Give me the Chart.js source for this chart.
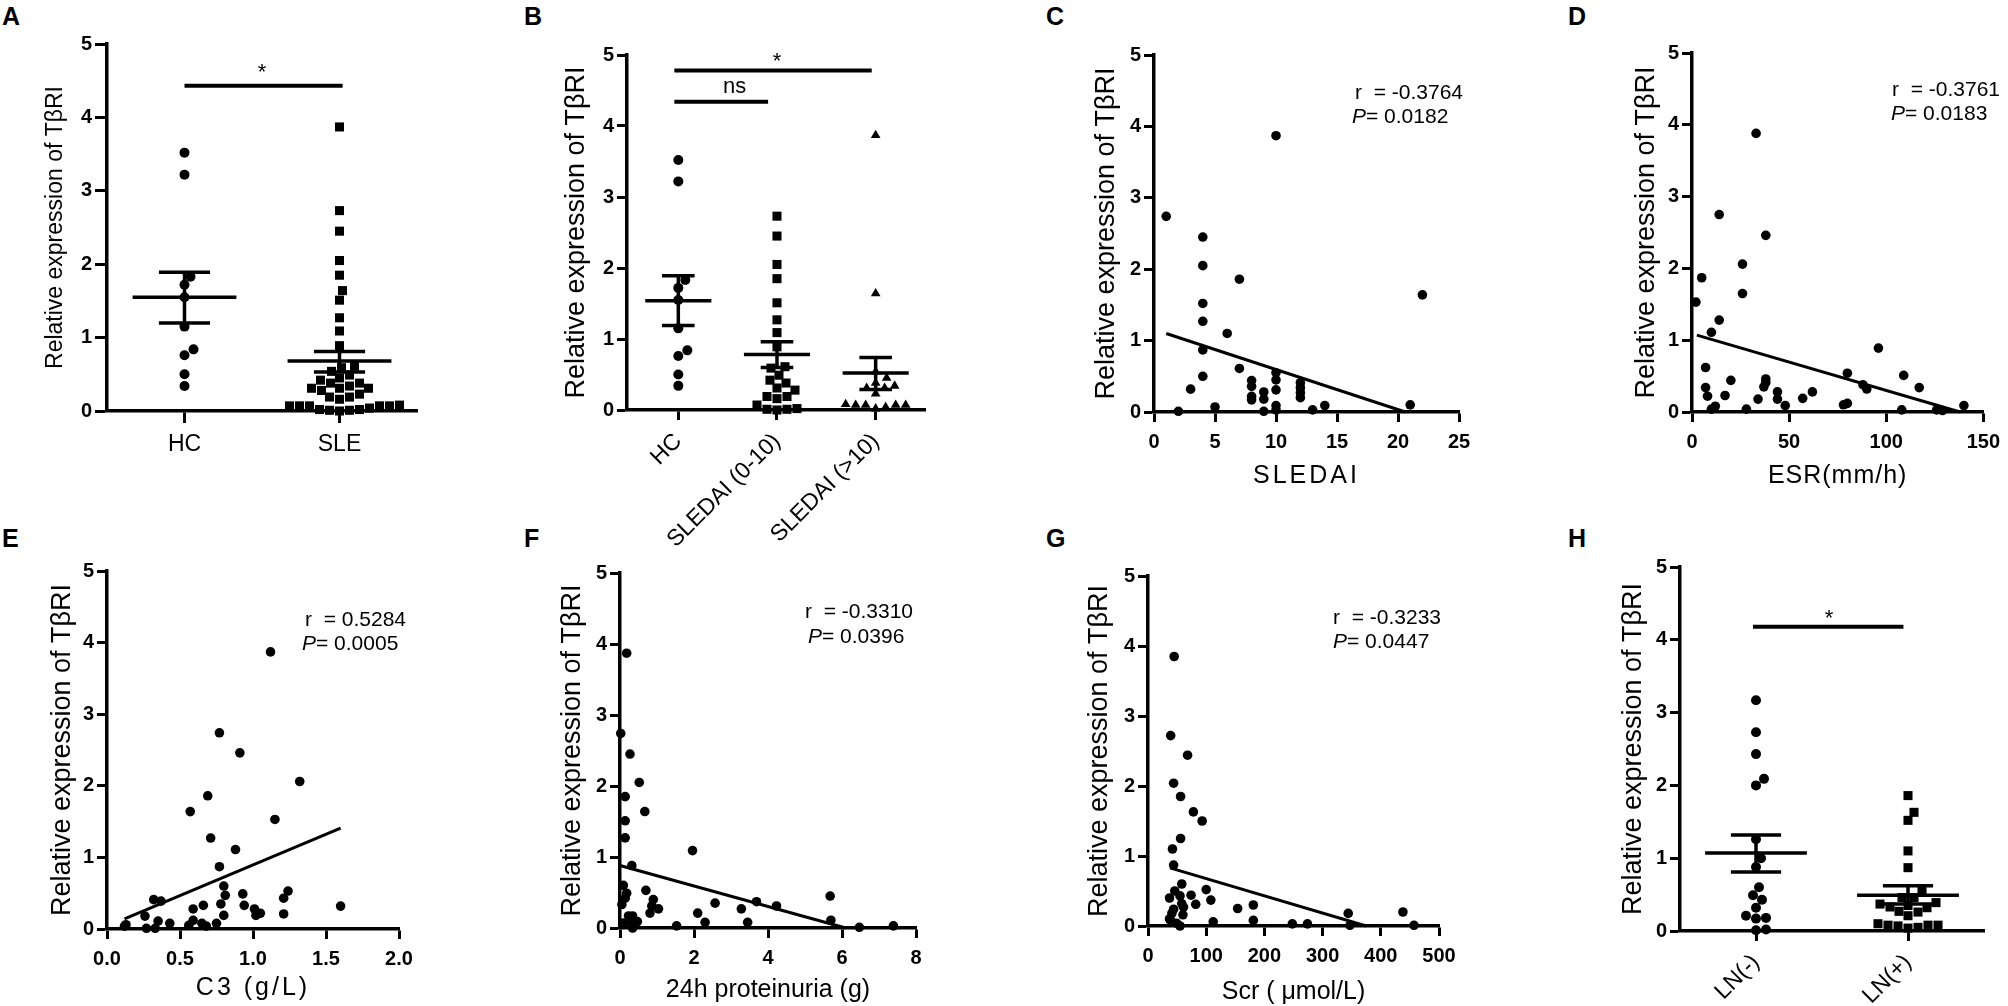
<!DOCTYPE html>
<html>
<head>
<meta charset="utf-8">
<title>Relative expression of TβRI</title>
<script src="https://cdn.jsdelivr.net/npm/chart.js@4.4.1/dist/chart.umd.min.js"></script>
<style>
	html, body { margin: 0; padding: 0; background: #fff; }
	body { position: relative; width: 2008px; height: 1006px; overflow: hidden; font-family: "Liberation Sans", Arial, sans-serif; }
	.panel { position: absolute; }
	.tag { position: absolute; font-weight: bold; font-size: 25px; line-height: 25px; }
</style>
</head>
<body>
<div class="tag" style="left:2px;top:4px">A</div>
<div class="tag" style="left:524px;top:4px">B</div>
<div class="tag" style="left:1046px;top:4px">C</div>
<div class="tag" style="left:1568px;top:4px">D</div>
<div class="tag" style="left:2px;top:526px">E</div>
<div class="tag" style="left:524px;top:526px">F</div>
<div class="tag" style="left:1046px;top:526px">G</div>
<div class="tag" style="left:1568px;top:526px">H</div>
<script>
'use strict';

// ---- values ----

var hcExpr = [3.52, 3.22, 1.83, 1.72, 1.55, 1.15, 0.84, 0.76, 0.50, 0.34];
var sleExpr = [3.87, 2.73, 2.45, 2.05, 1.85, 1.64, 1.51, 1.27, 1.09, 0.89, 0.61, 0.59, 0.54, 0.49,
	0.45, 0.42, 0.38, 0.38, 0.34, 0.31, 0.31, 0.31, 0.28, 0.23, 0.19, 0.19, 0.16, 0.08, 0.07, 0.07,
	0.07, 0.07, 0.07, 0.04, 0.02, 0.02, 0.01, 0.01, 0.00];
var sledaiLowExpr = [2.73, 2.45, 2.05, 1.85, 1.51, 1.27, 1.09, 0.89, 0.61, 0.59, 0.49, 0.42, 0.38,
	0.31, 0.28, 0.19, 0.19, 0.16, 0.07, 0.02, 0.01, 0.01, 0.00];
var sledaiHighExpr = [3.87, 1.64, 0.54, 0.45, 0.38, 0.34, 0.31, 0.31, 0.23, 0.08, 0.07, 0.07, 0.07,
	0.07, 0.04, 0.02];
var lnNegExpr = [3.17, 2.73, 2.43, 2.09, 2.00, 1.26, 1.00, 0.88, 0.60, 0.49, 0.43, 0.32, 0.21, 0.18,
	0.17, 0.02, 0.01];
var lnPosExpr = [1.86, 1.63, 1.52, 1.10, 0.87, 0.55, 0.46, 0.46, 0.39, 0.37, 0.35, 0.33, 0.32, 0.27,
	0.26, 0.21, 0.10, 0.08, 0.08, 0.08, 0.07, 0.05, 0.04];

var groupsA = ['HC', 'SLE'];
var meanA = [1.55, 0.68];
var semLoA = [1.20, 0.53];
var semHiA = [1.89, 0.81];

var groupsB = ['HC', 'SLEDAI (0-10)', 'SLEDAI (>10)'];
var meanB = [1.54, 0.78, 0.52];
var semLoB = [1.19, 0.60, 0.29];
var semHiB = [1.89, 0.96, 0.74];

var groupsH = ['LN(-)', 'LN(+)'];
var meanH = [1.07, 0.49];
var semLoH = [0.81, 0.37];
var semHiH = [1.32, 0.62];

// significance bars: [from, to, level] and their marks: [text, x, y]
var barsA = [[0, 1.02, 4.43]];
var marksA = [['*', 0.5, 4.67]];
var barsB = [[-0.04, 1.96, 4.78], [-0.04, 0.91, 4.34]];
var marksB = [['*', 1.0, 4.97], ['ns', 0.57, 4.55]];
var barsH = [[-0.02, 0.97, 4.18]];
var marksH = [['*', 0.48, 4.35]];

var sledaiScore = [1, 2, 3, 4, 4, 4, 4, 4, 4, 5, 6, 7, 7, 8, 8, 8, 8, 9, 9, 9, 10, 10, 10, 10, 10, 10,
	12, 12, 12, 12, 13, 14, 21, 22];
var sledaiExpr = [2.74, 0.01, 0.32, 2.45, 2.05, 1.52, 1.27, 0.87, 0.50, 0.07, 1.10, 1.86, 0.61, 0.44,
	0.36, 0.22, 0.17, 0.28, 0.18, 0.01, 3.87, 0.55, 0.45, 0.31, 0.09, 0.03, 0.41, 0.34, 0.27, 0.20,
	0.03, 0.09, 0.10, 1.64];
var sledaiFit = [[1, 1.10], [20.6, 0]];

var esrValue = [2, 5, 7, 7, 8, 10, 10, 12, 14, 14, 17, 20, 26, 26, 28, 33, 34, 38, 38, 38, 37, 44, 44,
	48, 57, 62, 78, 80, 80, 88, 90, 96, 108, 109, 117, 126, 129, 140];
var esrExpr = [1.53, 1.87, 0.62, 0.34, 0.22, 1.11, 0.04, 0.08, 1.28, 2.75, 0.23, 0.44, 2.06, 1.65, 0.04,
	3.88, 0.18, 2.46, 0.46, 0.41, 0.35, 0.28, 0.18, 0.09, 0.19, 0.28, 0.10, 0.12, 0.54, 0.38, 0.32,
	0.89, 0.03, 0.51, 0.34, 0.03, 0.02, 0.09];
var esrFit = [[2.5, 1.07], [138, 0]];

var c3Value = [0.12, 0.13, 0.26, 0.27, 0.32, 0.37, 0.33, 0.35, 0.43, 0.56, 0.57, 0.59, 0.59, 0.65, 0.66,
	0.68, 0.69, 0.71, 0.75, 0.77, 0.77, 0.80, 0.81, 0.78, 0.80, 0.88, 0.91, 0.93, 0.94, 1.01, 1.02,
	1.05, 1.12, 1.15, 1.21, 1.21, 1.24, 1.32, 1.60];
var c3Expr = [0.04, 0.06, 0.18, 0.01, 0.41, 0.39, 0.01, 0.11, 0.08, 0.05, 1.64, 0.12, 0.28, 0.08, 0.33,
	0.04, 1.86, 1.27, 0.08, 2.74, 0.87, 0.60, 0.47, 0.35, 0.19, 1.11, 2.46, 0.49, 0.33, 0.28, 0.19,
	0.22, 3.87, 1.53, 0.43, 0.21, 0.53, 2.06, 0.32];
var c3Fit = [[0.12, 0.14], [1.60, 1.41]];

var proteinuria = [0.02, 0.18, 0.27, 0.14, 0.14, 0.14, 0.52, 0.67, 0.32, 0.09, 0.18, 0.14, 0.05, 0.23,
	0.34, 0.29, 0.34, 0.47, 0.09, 0.70, 0.90, 0.86, 1.04, 0.81, 1.53, 1.96, 2.10, 2.30, 2.57, 3.28,
	3.45, 3.69, 4.23, 5.68, 5.70, 6.47, 7.39];
var proteinuriaExpr = [2.74, 3.87, 2.45, 1.85, 1.51, 1.27, 2.05, 1.64, 0.88, 0.60, 0.49, 0.42, 0.33,
	0.17, 0.17, 0.08, 0.00, 0.09, 0.07, 0.53, 0.40, 0.31, 0.27, 0.21, 0.03, 1.09, 0.21, 0.08, 0.35,
	0.27, 0.08, 0.37, 0.31, 0.45, 0.11, 0.01, 0.03];
var proteinuriaFit = [[0, 0.88], [6.1, 0]];

var scrValue = [37, 39, 37, 41, 44, 42, 44, 45, 44, 46, 39, 49, 55, 55, 56, 56, 58, 58, 60, 61, 68, 74,
	78, 82, 93, 100, 108, 112, 154, 181, 181, 248, 274, 344, 347, 438, 457];
var scrExpr = [0.10, 2.72, 0.40, 0.18, 0.24, 1.10, 2.04, 3.85, 0.87, 0.50, 0.08, 0.04, 0.00, 0.43,
	1.85, 1.25, 0.60, 0.32, 0.16, 0.27, 2.44, 0.44, 1.63, 0.31, 1.50, 0.52, 0.37, 0.06, 0.25, 0.30,
	0.08, 0.03, 0.03, 0.18, 0.01, 0.20, 0.01];
var scrFit = [[37.8, 0.83], [375, 0]];

var yTicks = [0, 1, 2, 3, 4, 5];

// ---- drawing helpers ----

var FONT = '"Liberation Sans", Arial, sans-serif';
var Y_TITLE = 'Relative expression of TβRI';

Chart.defaults.font.family = FONT;
Chart.defaults.color = '#000';

function segment(x1, y1, x2, y2, width) {
	return {
		data: [{x: x1, y: y1}, {x: x2, y: y2}],
		showLine: true,
		borderColor: '#000',
		borderWidth: width,
		borderCapStyle: 'butt',
		pointRadius: 0,
		clip: false
	};
}

function dots(xs, ys, style, radius) {
	return {
		data: ys.map(function (v, i) { return {x: xs[i], y: v}; }),
		pointStyle: style,
		pointRadius: radius,
		backgroundColor: '#000',
		borderColor: '#000',
		borderWidth: 0,
		clip: false
	};
}

function column(index, values, style, radius) {
	var ds = dots(values.map(function () { return index; }), values, style, radius);
	ds.swarm = 10;
	return ds;
}

function meanSem(index, mean, lo, hi) {
	return [
		segment(index - 0.335, mean, index + 0.335, mean, 3.5),
		segment(index - 0.165, hi, index + 0.165, hi, 3.5),
		segment(index - 0.165, lo, index + 0.165, lo, 3.5),
		segment(index, lo, index, hi, 3.5)
	];
}

function groupPlot(groups, means, lo, hi, bars, columns) {
	var out = [];
	bars.forEach(function (b) {
		out.push(segment(b[0], b[2], b[1], b[2], 4));
	});
	groups.forEach(function (g, i) {
		out = out.concat(meanSem(i, means[i], lo[i], hi[i]));
	});
	return out.concat(columns);
}

function fitPlot(xs, ys, fit) {
	return [segment(fit[0][0], fit[0][1], fit[1][0], fit[1][1], 3), dots(xs, ys, 'circle', 4.8)];
}

function markNotes(marks) {
	return marks.map(function (m) {
		return {at: [m[1], m[2]], size: 22, parts: [[m[0], false]]};
	});
}

function statNotes(r, p, pos) {
	return [
		{dx: pos[0], dy: pos[1], size: 21, parts: [['r  = ' + r, false]]},
		{dx: pos[2], dy: pos[3], size: 21, parts: [['P', true], ['= ' + p, false]]}
	];
}

// spread points of one column sideways so they do not overlap
var swarmPlugin = {
	id: 'swarm',
	afterDatasetsUpdate: function (chart) {
		chart.data.datasets.forEach(function (ds, k) {
			if (!ds.swarm) {
				return;
			}
			var pts = chart.getDatasetMeta(k).data;
			var order = pts.map(function (p, i) { return i; });
			order.sort(function (a, b) { return pts[b].y - pts[a].y; });
			var placed = [];
			order.forEach(function (i) {
				var p = pts[i];
				var cx = p.x;
				var step, off, ok;
				for (step = 0; step < 400; step++) {
					off = step === 0 ? 0 : (step % 2 ? (step + 1) / 2 : -step / 2);
					ok = placed.every(function (q) {
						return Math.hypot(q.x - (cx + off), q.y - p.y) >= ds.swarm;
					});
					if (ok) {
						break;
					}
				}
				p.x = cx + off;
				placed.push({x: p.x, y: p.y});
			});
		});
	}
};

function notesPlugin(items) {
	return {
		id: 'notes',
		afterDatasetsDraw: function (chart) {
			var ctx = chart.ctx;
			var area = chart.chartArea;
			items.forEach(function (item) {
				var x, y, total = 0, ascent = 0, descent = -1e9;
				if (item.at) {
					x = chart.scales.x.getPixelForValue(item.at[0]);
					y = chart.scales.y.getPixelForValue(item.at[1]);
				} else {
					x = area.left + item.dx;
					y = area.top + item.dy;
				}
				ctx.save();
				ctx.fillStyle = '#000';
				ctx.textAlign = 'left';
				ctx.textBaseline = 'alphabetic';
				var widths = item.parts.map(function (part) {
					ctx.font = (part[1] ? 'italic ' : '') + item.size + 'px ' + FONT;
					var m = ctx.measureText(part[0]);
					total += m.width;
					ascent = Math.max(ascent, m.actualBoundingBoxAscent);
					descent = Math.max(descent, m.actualBoundingBoxDescent);
					return m.width;
				});
				if (item.at) {
					x -= total / 2;
				}
				var base = y + (ascent - descent) / 2;
				item.parts.forEach(function (part, i) {
					ctx.font = (part[1] ? 'italic ' : '') + item.size + 'px ' + FONT;
					ctx.fillText(part[0], x, base);
					x += widths[i];
				});
				ctx.restore();
			});
		}
	};
}

function makePanel(p) {
	var left = p.box[0], top = p.box[1], width = p.box[2], height = p.box[3];
	var holder = document.createElement('div');
	var canvas = document.createElement('canvas');
	holder.className = 'panel';
	holder.style.left = left + 'px';
	holder.style.top = top + 'px';
	holder.style.width = width + 'px';
	holder.style.height = height + 'px';
	holder.appendChild(canvas);
	document.body.appendChild(holder);

	var tickLen = p.tickLength || 10;
	var x = {
		type: 'linear',
		min: p.xMin,
		max: p.xMax,
		afterFit: function (s) { s.height = top + height - p.area[3]; },
		grid: {drawOnChartArea: false, tickLength: tickLen, tickWidth: 3, tickColor: '#000'},
		border: {width: 3.5, color: '#000'},
		ticks: {
			color: '#000',
			autoSkip: false,
			padding: 8,
			font: {size: 20, weight: 'bold'},
			stepSize: p.xStep
		}
	};
	if (p.groups) {
		x.afterBuildTicks = function (s) {
			s.ticks = p.groups.map(function (g, i) { return {value: i}; });
		};
		x.ticks.callback = function (v, i) { return p.groups[i]; };
		x.ticks.font = {size: 23, weight: 'normal'};
		x.ticks.minRotation = p.rotate || 0;
		x.ticks.maxRotation = p.rotate || 0;
	} else if (p.xDigits) {
		x.ticks.callback = function (v) { return v.toFixed(p.xDigits); };
	}
	if (p.xTitle) {
		x.title = {
			display: true,
			text: p.xTitle,
			color: '#000',
			font: {size: 25, lineHeight: 1},
			padding: {top: 0, bottom: top + height - p.xTitleY - 12.5}
		};
	}

	var ySize = p.yTitleSize || 27;
	var y = {
		type: 'linear',
		min: 0,
		max: 5,
		afterFit: function (s) { s.width = p.area[0] - left; },
		afterBuildTicks: function (s) {
			s.ticks = yTicks.map(function (v) { return {value: v}; });
		},
		grid: {drawOnChartArea: false, tickLength: tickLen, tickWidth: 3, tickColor: '#000'},
		border: {width: 3.5, color: '#000'},
		ticks: {color: '#000', padding: 3, font: {size: 20, weight: 'bold'}},
		title: {
			display: true,
			text: Y_TITLE,
			color: '#000',
			font: {size: ySize, lineHeight: 1},
			padding: {top: p.yTitleX - left - ySize / 2, bottom: 0}
		}
	};

	var chart = new Chart(canvas, {
		type: 'scatter',
		data: {datasets: p.datasets},
		options: {
			responsive: true,
			maintainAspectRatio: false,
			animation: false,
			events: [],
			layout: {
				padding: {left: 0, top: p.area[1] - top, right: left + width - p.area[2], bottom: 0}
			},
			plugins: {legend: {display: false}, tooltip: {enabled: false}},
			scales: {x: x, y: y}
		},
		plugins: [swarmPlugin, notesPlugin(p.notes || [])]
	});

	if (p.titleSpacing) {
		var sx = chart.scales.x;
		var drawTitle = sx.drawTitle;
		sx.drawTitle = function () {
			chart.ctx.letterSpacing = p.titleSpacing + 'px';
			drawTitle.apply(sx, arguments);
			chart.ctx.letterSpacing = '0px';
		};
		chart.draw();
	}
	return chart;
}

// ---- panels ----

var panels = [
	{
		box: [0, 0, 500, 500], area: [107, 44, 417, 411],
		xMin: -0.5, xMax: 1.5, groups: groupsA, tickLength: 12,
		yTitleX: 56, yTitleSize: 23,
		datasets: groupPlot(groupsA, meanA, semLoA, semHiA, barsA, [
			column(0, hcExpr, 'circle', 5),
			column(1, sleExpr, 'rect', 6.4)
		]),
		notes: markNotes(marksA)
	},
	{
		box: [500, 0, 500, 560], area: [627, 55, 925, 410],
		xMin: -0.52, xMax: 2.5, groups: groupsB, rotate: 45,
		yTitleX: 577,
		datasets: groupPlot(groupsB, meanB, semLoB, semHiB, barsB, [
			column(0, hcExpr, 'circle', 5),
			column(1, sledaiLowExpr, 'rect', 6.4),
			column(2, sledaiHighExpr, 'triangle', 5.6)
		]),
		notes: markNotes(marksB)
	},
	{
		box: [1000, 0, 500, 500], area: [1154, 55, 1459, 412],
		xMin: 0, xMax: 25, xStep: 5,
		xTitle: 'SLEDAI', xTitleY: 476, titleSpacing: 3,
		yTitleX: 1107,
		datasets: fitPlot(sledaiScore, sledaiExpr, sledaiFit),
		notes: statNotes('-0.3764', '0.0182', [201, 37, 198, 61])
	},
	{
		box: [1500, 0, 508, 500], area: [1692, 53, 1988, 412],
		xMin: 0, xMax: 150, xStep: 50,
		xTitle: 'ESR(mm/h)', xTitleY: 476, titleSpacing: 1,
		yTitleX: 1647,
		datasets: fitPlot(esrValue, esrExpr, esrFit),
		notes: statNotes('-0.3761', '0.0183', [200, 36, 199, 60])
	},
	{
		box: [0, 500, 500, 506], area: [107, 571, 399, 929],
		xMin: 0, xMax: 2, xStep: 0.5, xDigits: 1,
		xTitle: 'C3 (g/L)', xTitleY: 988, titleSpacing: 3,
		yTitleX: 63,
		datasets: fitPlot(c3Value, c3Expr, c3Fit),
		notes: statNotes('0.5284', '0.0005', [198, 48, 195, 72])
	},
	{
		box: [500, 500, 500, 506], area: [620, 573, 916, 928],
		xMin: 0, xMax: 8, xStep: 2,
		xTitle: '24h proteinuria (g)', xTitleY: 990,
		yTitleX: 573,
		datasets: fitPlot(proteinuria, proteinuriaExpr, proteinuriaFit),
		notes: statNotes('-0.3310', '0.0396', [185, 38, 188, 63])
	},
	{
		box: [1000, 500, 500, 506], area: [1148, 576, 1439, 926],
		xMin: 0, xMax: 500, xStep: 100,
		xTitle: 'Scr ( μmol/L)', xTitleY: 992,
		yTitleX: 1100,
		datasets: fitPlot(scrValue, scrExpr, scrFit),
		notes: statNotes('-0.3233', '0.0447', [185, 41, 185, 65])
	},
	{
		box: [1500, 500, 508, 506], area: [1680, 567, 1984, 931],
		xMin: -0.5, xMax: 1.5, groups: groupsH, rotate: 45,
		yTitleX: 1634,
		datasets: groupPlot(groupsH, meanH, semLoH, semHiH, barsH, [
			column(0, lnNegExpr, 'circle', 5),
			column(1, lnPosExpr, 'rect', 6.4)
		]),
		notes: markNotes(marksH)
	}
];

panels.forEach(makePanel);
</script>
</body>
</html>
